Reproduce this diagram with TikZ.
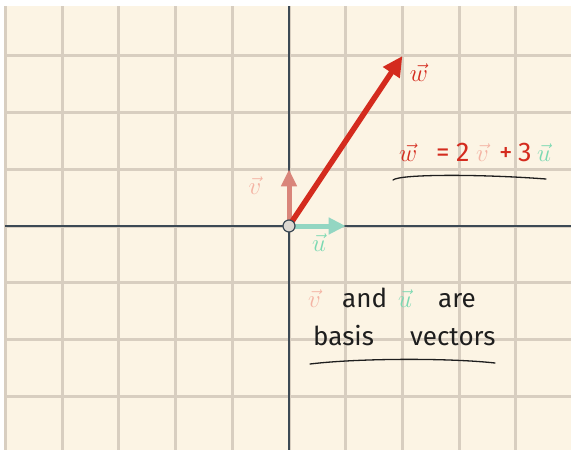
\documentclass[tikz,border=0pt]{standalone}
\usepackage{fontspec}
\setmainfont{Fira Sans}
\usetikzlibrary{arrows.meta}
\definecolor{paper}{HTML}{FCF4E4}
\definecolor{gridc}{HTML}{D8CEC0}
\definecolor{axisc}{HTML}{3C4954}
\definecolor{wred}{HTML}{D42B1E}
\definecolor{vpink}{HTML}{D9857A}
\definecolor{umint}{HTML}{93D6C2}
\definecolor{vtext}{HTML}{F4B3A3}
\definecolor{utext}{HTML}{7BD9B2}
\definecolor{ink}{HTML}{1E1E1E}
\tikzset{
  gridline/.style={draw=gridc, line width=3pt},
  axisline/.style={draw=axisc, line width=2.5pt},
  vecw/.style={draw=wred, line width=5.5pt, -{Triangle[length=20pt,width=19pt]}},
  vecv/.style={draw=vpink, line width=5pt, -{Triangle[length=17pt,width=15pt]}},
  vecu/.style={draw=umint, line width=5pt, -{Triangle[length=17pt,width=16pt]}},
  lbl/.style={font=\fontsize{28}{30}\selectfont, inner sep=0pt},
  eqt/.style={font=\fontsize{27}{30}\selectfont, inner sep=0pt, anchor=base west},
  txt/.style={font=\fontsize{26}{28}\selectfont, text=ink, inner sep=0pt, anchor=base west},
  uline/.style={draw=ink, line width=1.3pt, line cap=round}
}
\begin{document}
\begin{tikzpicture}[x=1pt,y=-1pt]
\useasboundingbox (0,0) rectangle (571,450);
\fill[white] (0,0) rectangle (571,450);
\fill[paper] (5,6) rectangle (571,450);
% grid
\foreach \k in {-5,...,4} {
  \draw[gridline] ({289+56.7*\k},6) -- ({289+56.7*\k},450);
}
\foreach \k in {-3,...,3} {
  \draw[gridline] (5,{226+56.7*\k}) -- (571,{226+56.7*\k});
}
% axes
\draw[axisline] (289,6) -- (289,450);
\draw[axisline] (5,226) -- (571,226);
% vectors
\coordinate (O) at (289,226);
\coordinate (W) at (402.4,56);
\coordinate (V) at (289,169.3);
\coordinate (U) at (345.7,226);
\draw[vecv] (O) -- (V);
\draw[vecu] (O) -- (U);
\draw[vecw] (O) -- (W);
\node[circle, draw=axisc, fill=gridc!80!gray!60, line width=1.2pt, minimum size=12pt, inner sep=0pt] (o) at (O) {};
% labels near arrows
\node[lbl, text=wred] (wl) at (419,73) {$\vec{w}$};
\node[lbl, text=vtext] (vl) at (255,186) {$\vec{v}$};
\node[lbl, text=utext] (ul) at (319,243) {$\vec{u}$};
% equation
\node[eqt, text=wred] (e-w) at (399,161) {$\vec{w}$};
\node[eqt, text=wred] (e-eq) at (436,161) {=};
\node[eqt, text=wred] (e-2) at (456,161) {2};
\node[eqt, text=vtext] (e-v) at (476,161) {$\vec{v}$};
\node[eqt, text=wred] (e-p) at (499,161) {+};
\node[eqt, text=wred] (e-3) at (518,161) {3};
\node[eqt, text=utext] (e-u) at (537,161) {$\vec{u}$};
\coordinate (e1) at (393,180);
\coordinate (e2) at (546,179);
\draw[uline] (e1) .. controls (400,174) and (480,174) .. (e2);
% basis text
\node[txt, text=vtext] (t-v) at (308,307) {$\vec{v}$};
\node[txt] (t-and) at (342,307) {and};
\node[txt, text=utext] (t-u) at (398,307) {$\vec{u}$};
\node[txt] (t-are) at (438,307) {are};
\node[txt] (t-basis) at (313,345) {basis};
\node[txt] (t-vectors) at (410,345) {vectors};
\coordinate (b1) at (310,364);
\coordinate (b2) at (495,363);
\draw[uline] (b1) .. controls (360,358) and (450,358) .. (b2);
\end{tikzpicture}
\end{document}
